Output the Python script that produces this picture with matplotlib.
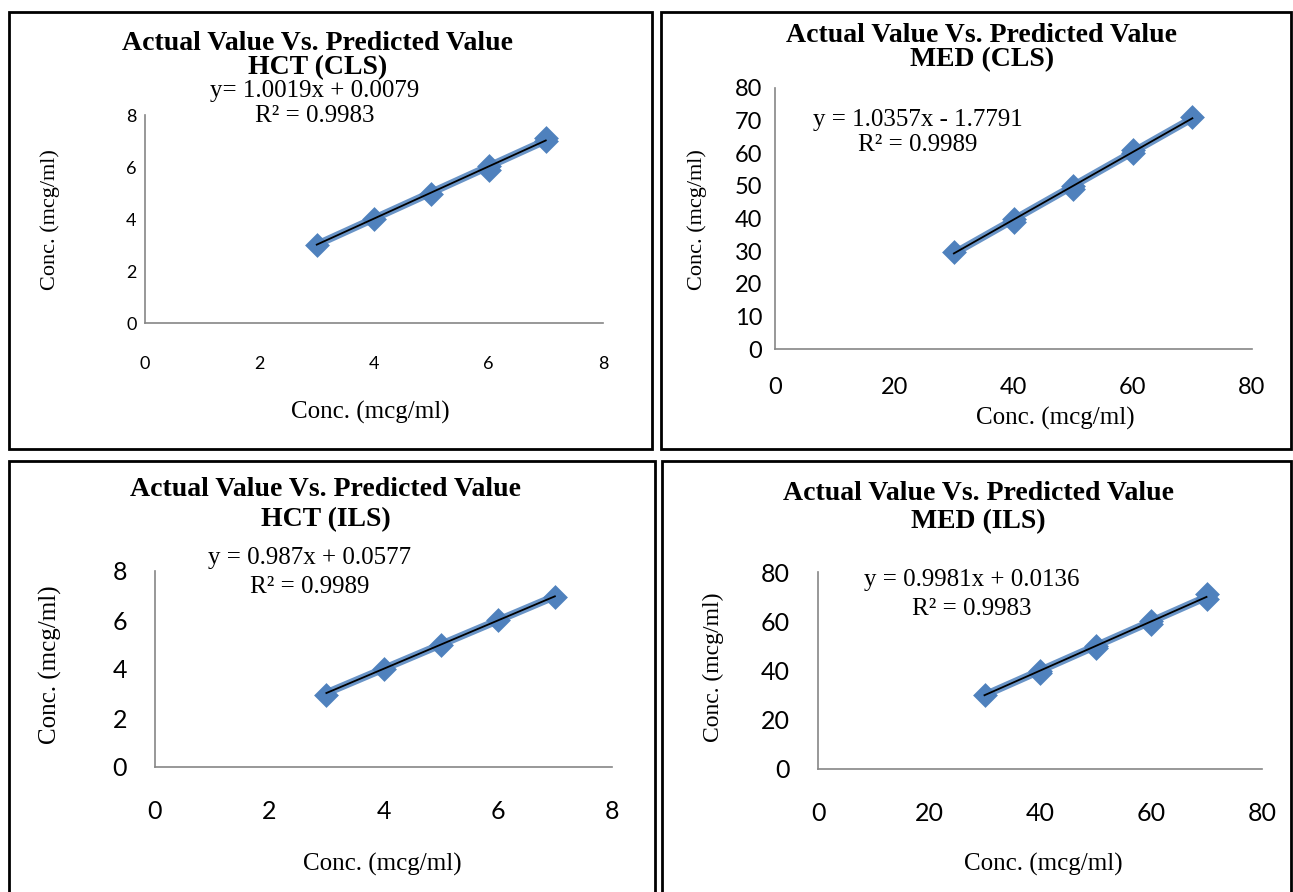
import numpy as np
import matplotlib
matplotlib.use("Agg")
import matplotlib.pyplot as plt
from matplotlib.patches import Rectangle

W, H = 1293, 892

# data
hct_cls_actual = [3, 4, 5, 6, 6, 7, 7]
hct_cls_pred = [3.0, 4.0, 4.95, 6.05, 5.9, 7.1, 7.0]
med_cls_actual = [30, 40, 40, 50, 50, 60, 60, 70]
med_cls_pred = [29.8, 39.0, 40.0, 49.0, 50.0, 60.0, 61.0, 71.0]
hct_ils_actual = [3, 4, 5, 6, 7]
hct_ils_pred = [2.95, 4.0, 5.0, 6.0, 6.95]
med_ils_actual = [30, 40, 40, 50, 50, 60, 60, 70, 70]
med_ils_pred = [30.0, 39.0, 40.0, 49.0, 50.0, 59.0, 60.0, 69.0, 71.0]

eqs = ["y= 1.0019x + 0.0079", "y = 1.0357x - 1.7791",
       "y = 0.987x + 0.0577", "y = 0.9981x + 0.0136"]
r2s = ["R² = 0.9983", "R² = 0.9989", "R² = 0.9989", "R² = 0.9983"]
fits = [(1.0019, 0.0079), (1.0357, -1.7791), (0.987, 0.0577), (0.9981, 0.0136)]
titles = ["HCT (CLS)", "MED (CLS)", "HCT (ILS)", "MED (ILS)"]

hct_ticks = [0, 2, 4, 6, 8]
med_ticks_cls = [0, 10, 20, 30, 40, 50, 60, 70, 80]
med_ticks_ils = [0, 20, 40, 60, 80]
med_xticks = [0, 20, 40, 60, 80]

BLUE = "#4F81BD"
SERIF = "Liberation Serif"
SANS = "Lato"

fig = plt.figure(figsize=(W / 100, H / 100), dpi=100)


def px_axes(x0, x1, ytop, ybot):
    return fig.add_axes([x0 / W, 1 - ybot / H, (x1 - x0) / W, (ybot - ytop) / H])


def ftext(x, y, s, **kw):
    fig.text(x / W, 1 - y / H, s, ha="center", va="center", **kw)


# panel borders
for (x0, y0, x1, y1) in [(9, 12, 652, 449), (661, 12, 1291, 449),
                         (9, 461, 655, 895), (662, 461, 1291, 895)]:
    fig.patches.append(Rectangle((x0 / W, 1 - y1 / H), (x1 - x0) / W, (y1 - y0) / H,
                                 transform=fig.transFigure, fill=False,
                                 edgecolor="black", lw=2))

panels = [
    dict(rect=(145, 603, 115, 323), xs=hct_cls_actual, ys=hct_cls_pred, lim=8,
         yt=hct_ticks, xt=hct_ticks, tfs=13, ypad=6, xpad=24,
         title=(318, 43, 68), eq=(315, 91, 116), xl=(370, 412), yl=(50, 220), ylfs=16),
    dict(rect=(775, 1252, 88, 349), xs=med_cls_actual, ys=med_cls_pred, lim=80,
         yt=med_ticks_cls, xt=med_xticks, tfs=17, ypad=9, xpad=20,
         title=(982, 35, 60), eq=(918, 120, 145), xl=(1055, 418), yl=(697, 220), ylfs=16),
    dict(rect=(155, 612, 571, 767), xs=hct_ils_actual, ys=hct_ils_pred, lim=8,
         yt=hct_ticks, xt=hct_ticks, tfs=18, ypad=20, xpad=24,
         title=(326, 489, 520), eq=(310, 558, 587), xl=(382, 864), yl=(50, 665), ylfs=18),
    dict(rect=(818, 1262, 572, 769), xs=med_ils_actual, ys=med_ils_pred, lim=80,
         yt=med_ticks_ils, xt=med_xticks, tfs=18, ypad=20, xpad=24,
         title=(978, 493, 522), eq=(972, 580, 609), xl=(1043, 864), yl=(713, 667), ylfs=17),
]

for i, p in enumerate(panels):
    ax = px_axes(*p["rect"])
    xs = np.array(p["xs"])
    ax.scatter(xs, p["ys"], marker="D", s=160, color=BLUE, zorder=3, linewidths=0)
    m, b = fits[i]
    xx = np.array([xs.min(), xs.max()])
    ax.plot(xx, m * xx + b, color=BLUE, lw=5.5, alpha=0.85, zorder=4)
    ax.plot(xx, m * xx + b, color="black", lw=1.3, zorder=5)
    ax.set_xlim(0, p["lim"])
    ax.set_ylim(0, p["lim"])
    ax.set_xticks(p["xt"])
    ax.set_yticks(p["yt"])
    for s in ["top", "right"]:
        ax.spines[s].set_visible(False)
    for s in ["left", "bottom"]:
        ax.spines[s].set_color("#868686")
        ax.spines[s].set_linewidth(1.2)
    ax.tick_params(length=0, labelsize=p["tfs"])
    ax.tick_params(axis="x", pad=p["xpad"])
    ax.tick_params(axis="y", pad=p["ypad"])
    for lab in ax.get_xticklabels() + ax.get_yticklabels():
        lab.set_fontfamily(SANS)
    ax.patch.set_alpha(0)

    tx, ty1, ty2 = p["title"]
    ftext(tx, ty1, "Actual Value Vs. Predicted Value", family=SERIF,
          fontweight="bold", fontsize=20)
    ftext(tx, ty2, titles[i], family=SERIF, fontweight="bold", fontsize=20)
    ex, ey1, ey2 = p["eq"]
    ftext(ex, ey1, eqs[i], family=SERIF, fontsize=18)
    ftext(ex, ey2, r2s[i], family=SERIF, fontsize=18)
    ftext(*p["xl"], "Conc. (mcg/ml)", family=SERIF, fontsize=18)
    ftext(*p["yl"], "Conc. (mcg/ml)", family=SERIF, fontsize=p["ylfs"], rotation=90)

fig.savefig("out.png", dpi=100)
